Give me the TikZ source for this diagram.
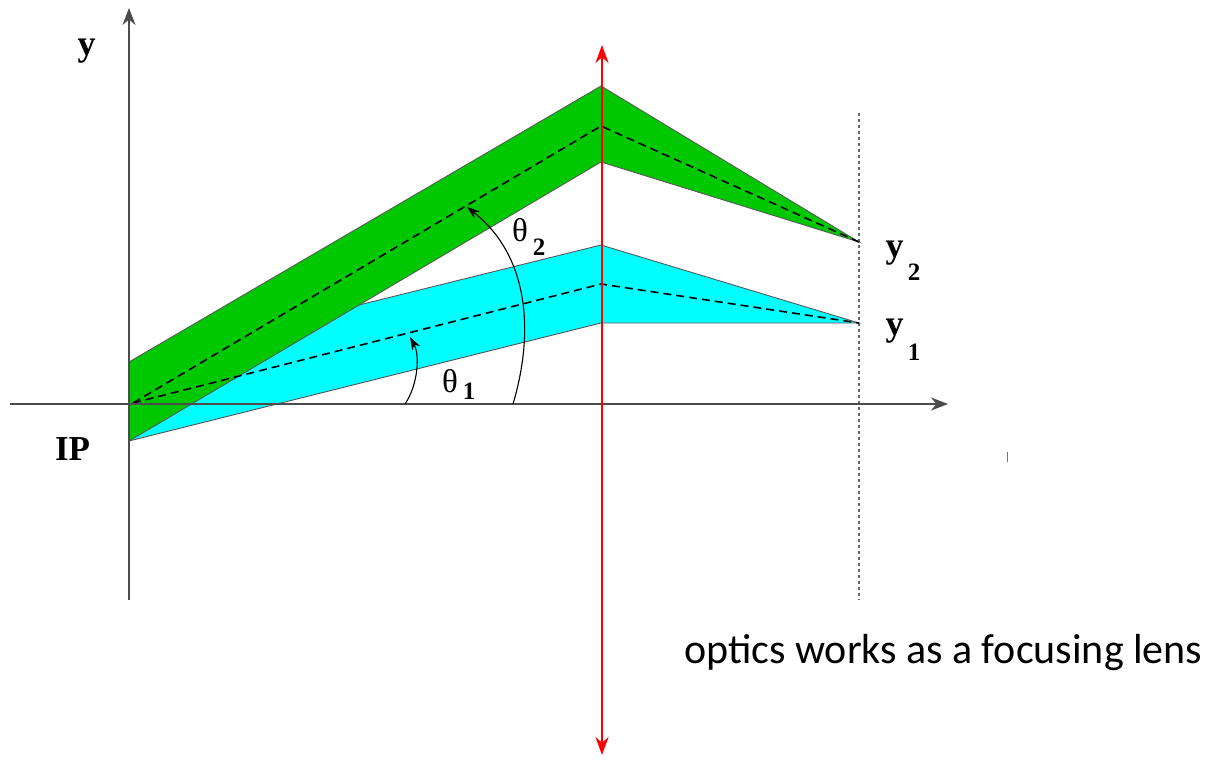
\documentclass[tikz,border=0pt]{standalone}
\usepackage{fontspec}
\setmainfont{Liberation Serif}
\newfontfamily\calibri{Carlito}
\usetikzlibrary{arrows.meta}
\definecolor{bandcyan}{RGB}{0,255,255}
\definecolor{bandgreen}{RGB}{0,200,0}
\begin{document}
\begin{tikzpicture}[x=1pt,y=-1pt,
  band/.style={draw=black!65, line width=0.9pt, line join=miter},
  ctr/.style={dash pattern=on 8pt off 5pt, line width=1.6pt},
  axis/.style={draw=black!70, line width=2pt, -{Stealth[length=17pt,width=13pt]}},
  lens/.style={draw=red, line width=2.6pt, {Stealth[length=18pt,width=13pt]}-{Stealth[length=18pt,width=13pt]}},
  angarc/.style={draw=black, line width=1.1pt, -{Stealth[length=13pt,width=9pt]}},
  lbl/.style={font=\fontsize{36}{40}\selectfont\bfseries, inner sep=0pt, anchor=base},
  sub/.style={font=\fontsize{25}{30}\selectfont\bfseries, inner sep=0pt, anchor=base},
  greek/.style={font=\fontsize{33}{38}\selectfont, inner sep=0pt, anchor=base},
  note/.style={font=\calibri\fontsize{42}{50}\selectfont, inner sep=0pt, anchor=base west}
]
\useasboundingbox (0,0) rectangle (1214,761);
% points
\coordinate (O) at (129,404);
\coordinate (S) at (133,403);
\coordinate (G1) at (129,362);
\coordinate (G2) at (601,86);
\coordinate (GM) at (601,126);
\coordinate (G3) at (601,162);
\coordinate (G4) at (129,441);
\coordinate (F2) at (859,242);
\coordinate (C2) at (601,245);
\coordinate (CM) at (601,284);
\coordinate (C3) at (601,323);
\coordinate (F1) at (859,323);
\coordinate (Xs) at (10,404);
\coordinate (Xe) at (948,404);
\coordinate (Ys) at (129,600);
\coordinate (Ye) at (129,8);
\coordinate (Ls) at (602,755);
\coordinate (Le) at (602,45);
\coordinate (Ds) at (859,113);
\coordinate (De) at (859,600);
% image plane (dotted)
\draw[draw=black!60, line width=1.2pt, dash pattern=on 3pt off 3pt] (Ds) -- (De);
% cyan band
\fill[bandcyan] (G1) -- (C2) -- (F1) -- (C3) -- (G4) -- cycle;
\draw[band] (G1) -- (C2) -- (F1) -- (C3) -- (G4);
% green band
\fill[bandgreen] (G1) -- (G2) -- (F2) -- (G3) -- (G4) -- cycle;
\draw[band] (G1) -- (G2) -- (F2) -- (G3) -- (G4);
% central rays
\draw[ctr] (S) -- (CM) -- (F1);
\draw[ctr] (S) -- (GM) -- (F2);
% axes
\draw[axis] (Xs) -- (Xe);
\draw[axis] (Ys) -- (Ye);
% lens
\draw[lens] (Ls) -- (Le);
% angle arcs
\draw[angarc] (405,404) .. controls (418,385) and (420,355) .. (410,337);
\draw[angarc] (513,404) .. controls (535,330) and (528,255) .. (467,207);
% small tick
\draw[black!55, line width=0.8pt] (1007,452) -- (1007,462);
% labels
\node[lbl] (ly) at (86.5,55) {y};
\node[font=\fontsize{35}{40}\selectfont\bfseries, inner sep=0pt, anchor=base] (lip) at (72.5,460) {IP};
\node[greek] (t2) at (520,241) {θ};
\node[sub] (t2s) at (539,255) {2};
\node[greek] (t1) at (450,392) {θ};
\node[sub] (t1s) at (469,399) {1};
\node[lbl] (y2) at (894.5,257) {y};
\node[sub] (y2s) at (914,280) {2};
\node[lbl] (y1) at (894.5,335) {y};
\node[sub] (y1s) at (914,360) {1};
\node[note] (txt) at (684,663) {optics works as a focusing lens};
\end{tikzpicture}
\end{document}
